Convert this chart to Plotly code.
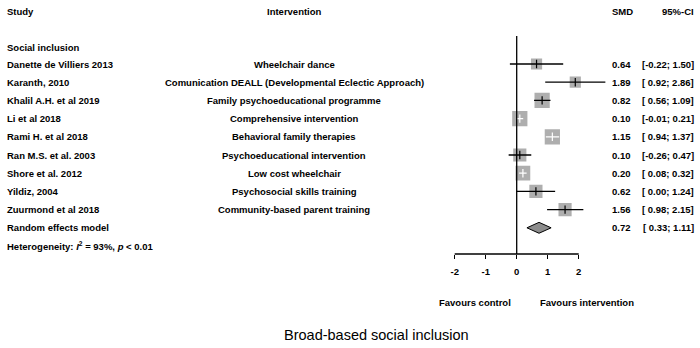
import plotly.graph_objects as go

# ---------------- data ----------------
studies = ["Danette de Villiers 2013", "Karanth, 2010", "Khalil A.H. et al 2019",
           "Li et al 2018", "Rami H. et al 2018", "Ran M.S. et al. 2003",
           "Shore et al. 2012", "Yildiz, 2004", "Zuurmond et al 2018"]
interventions = ["Wheelchair dance",
                 "Comunication DEALL (Developmental Eclectic Approach)",
                 "Family psychoeducational programme", "Comprehensive intervention",
                 "Behavioral family therapies", "Psychoeducational intervention",
                 "Low cost wheelchair", "Psychosocial skills training",
                 "Community-based parent training"]
smd = [0.64, 1.89, 0.82, 0.10, 1.15, 0.10, 0.20, 0.62, 1.56]
ci_low = [-0.22, 0.92, 0.56, -0.01, 0.94, -0.26, 0.08, 0.00, 0.98]
ci_high = [1.50, 2.86, 1.09, 0.21, 1.37, 0.47, 0.32, 1.24, 2.15]
weights = [7.4, 7.4, 13.8, 13.8, 13.8, 10.3, 12.9, 10.3, 10.3]  # estimated %
pooled_label = "Random effects model"
pooled = [0.72, 0.33, 1.11]
heterogeneity = "Heterogeneity: <i>I</i><sup>2</sup> = 93%, <i>p</i> &lt; 0.01"
group_label = "Social inclusion"
tick_vals = [-2, -1, 0, 1, 2]
tick_text = ["-2", "-1", "0", "1", "2"]
favours = ["Favours control", "Favours intervention"]
title = "Broad-based social inclusion"

# ---------------- layout helpers ----------------
W, H = 700, 348
X0PX, PXU = 516.7, 31.0           # pixel of x=0 and pixels per unit
XR = [-2.5, 3.2]
ROW0, STEP = 64.0, 18.2           # pixel of first study row and row spacing


def px_to_row(p):
    return (p - ROW0) / STEP


def ypap(p):
    return 1 - p / H


GRAY = "#8c8c8c"
FONT = dict(family="Liberation Sans, Arial, sans-serif", size=9.5, color="black", weight="bold")

n = len(studies)
rows = list(range(n))
pooled_row = n
het_row = n + 1

fig = go.Figure()

sizes = [4.1 * w ** 0.5 for w in weights]

# squares
fig.add_trace(go.Scatter(
    x=smd, y=rows, mode="markers",
    marker=dict(symbol="square", color=GRAY, size=sizes, line=dict(width=0)),
    hoverinfo="skip", showlegend=False))

# CI lines (white if inside square)
for i in range(n):
    inside = (ci_high[i] - ci_low[i]) * PXU < sizes[i]
    col = "white" if inside else "black"
    fig.add_trace(go.Scatter(x=[ci_low[i], ci_high[i]], y=[i, i], mode="lines",
                             line=dict(color=col, width=1.3), hoverinfo="skip",
                             showlegend=False))
    fig.add_trace(go.Scatter(x=[smd[i]], y=[i], mode="markers",
                             marker=dict(symbol="line-ns", size=6,
                                         line=dict(color=col, width=1.2)),
                             hoverinfo="skip", showlegend=False))

# diamond
hh = 0.3
fig.add_trace(go.Scatter(
    x=[pooled[1], pooled[0], pooled[2], pooled[0], pooled[1]],
    y=[pooled_row, pooled_row - hh, pooled_row, pooled_row + hh, pooled_row],
    mode="lines", fill="toself", fillcolor=GRAY,
    line=dict(color="black", width=1), hoverinfo="skip", showlegend=False))

AX_PX = 254
dom = [(X0PX + XR[0] * PXU) / W, (X0PX + XR[1] * PXU) / W]

shapes = [
    dict(type="line", xref="x", yref="paper", x0=0, x1=0, y0=ypap(AX_PX), y1=ypap(36),
         line=dict(color="black", width=1.3)),
    dict(type="line", xref="x", yref="paper", x0=tick_vals[0], x1=tick_vals[-1],
         y0=ypap(AX_PX), y1=ypap(AX_PX), line=dict(color="black", width=1.3)),
]

ann = []


def add_text(text, xpx, ypx, anchor="left", font=None):
    ann.append(dict(text=text, x=xpx / W, y=ypap(ypx), xref="paper", yref="paper",
                    xanchor=anchor, yanchor="middle", showarrow=False,
                    font=font or FONT))


# headers
add_text("Study", 5, 12)
add_text("Intervention", 294, 12, "center")
add_text("SMD", 635, 12, "right")
add_text("95%-CI", 696, 12, "right")
add_text(group_label, 5, 47)


def fmt(v):
    return ("%.2f" % v) if v < 0 else (" %.2f" % v)


for i in range(n):
    ypx = ROW0 + i * STEP
    add_text(studies[i], 5, ypx)
    add_text(interventions[i], 294, ypx, "center")
    add_text("%.2f" % smd[i], 633, ypx, "right")
    add_text("[%s; %.2f]" % (fmt(ci_low[i]), ci_high[i]), 696, ypx, "right")

ypx = ROW0 + pooled_row * STEP
add_text(pooled_label, 5, ypx)
add_text("%.2f" % pooled[0], 633, ypx, "right")
add_text("[%s; %.2f]" % (fmt(pooled[1]), pooled[2]), 696, ypx, "right")
add_text(heterogeneity, 5, ROW0 + het_row * STEP)

add_text(favours[0], 475, 302, "center")
add_text(favours[1], 587, 302, "center")
add_text(title, 376.5, 335, "center",
         dict(family="Liberation Sans, Arial, sans-serif", size=14.5, color="black"))

fig.update_layout(
    width=W, height=H, margin=dict(l=0, r=0, t=0, b=0),
    paper_bgcolor="white", plot_bgcolor="white",
    xaxis=dict(domain=dom, range=XR, showgrid=False, zeroline=False, showline=False,
               tickvals=tick_vals, ticktext=tick_text, ticks="outside", ticklen=4,
               tickcolor="black", tickwidth=1.3, anchor="free", position=ypap(AX_PX),
               tickfont=FONT, ticklabelstandoff=5, fixedrange=True),
    yaxis=dict(domain=[0, 1], range=[px_to_row(H), px_to_row(0)], visible=False,
               fixedrange=True),
    shapes=shapes, annotations=ann,
)

# remove the default 8px page margin so the figure fills the 700x348 window
fig.write_html("out.html", config={"displayModeBar": False},
               post_script="document.body.style.margin='0';")
